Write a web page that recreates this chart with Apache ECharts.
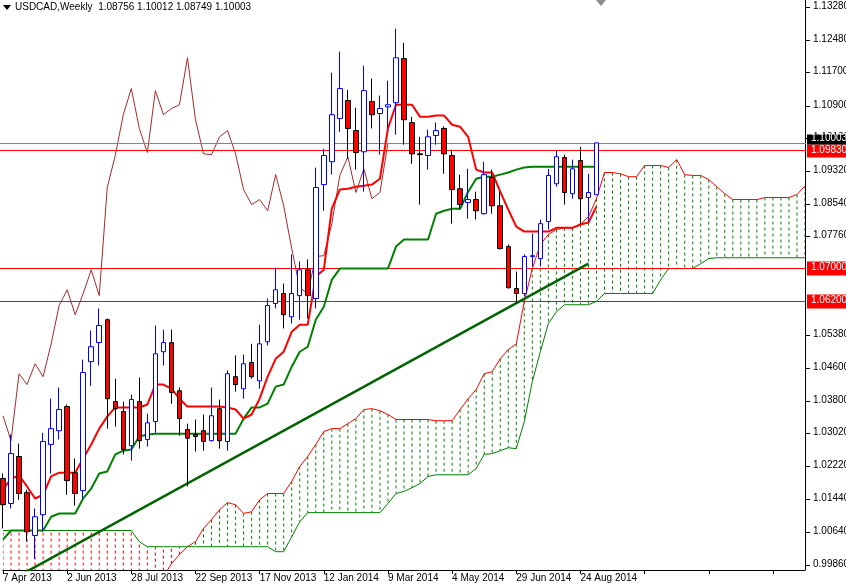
<!DOCTYPE html>
<html>
<head>
<meta charset="utf-8">
<script src="https://cdn.jsdelivr.net/npm/echarts@6.0.0/dist/echarts.min.js"></script>
<style>
  html, body { margin: 0; padding: 0; background: #fff; }
  #chart { width: 846px; height: 587px; }
</style>
</head>
<body>
<div id="chart"></div>
<script>
// weekly USDCAD, 7 Apr 2013 .. early Sep 2014
var opens = [1.0193,1.0133,1.0246,1.0159,1.0056,1.0106,1.0275,1.0308,1.0366,1.0207,
  1.0164,1.0474,1.0520,1.0575,1.0378,1.0354,1.0272,1.0378,1.0287,1.0330,
  1.0498,1.0520,1.0404,1.0311,1.0299,1.0308,1.0284,1.0361,1.0282,1.0438,
  1.0409,1.0472,1.0428,1.0522,1.0614,1.0638,1.0582,1.0633,1.0695,1.0626,
  1.0900,1.0955,1.1059,1.1102,1.1030,1.0979,1.1100,1.1071,1.1087,1.1097,
  1.1203,1.1049,1.0974,1.0970,1.1018,1.1035,1.0970,1.0890,1.0857,1.0864,
  1.0830,1.0917,1.0849,1.0751,1.0650,1.0638,1.0727,1.0722,1.0811,1.0902,
  1.0965,1.0878,1.0958,1.0869,1.08756];
var closes = [1.0130,1.0253,1.0157,1.0065,1.0101,1.0282,1.0313,1.0359,1.0188,1.0157,
  1.0448,1.0510,1.0561,1.0385,1.0361,1.0263,1.0383,1.0284,1.0327,1.0493,
  1.0520,1.0400,1.0337,1.0290,1.0294,1.0282,1.0344,1.0284,1.0445,1.0419,
  1.0469,1.0438,1.0517,1.0609,1.0647,1.0587,1.0638,1.0695,1.0633,1.0893,
  1.0970,1.1068,1.1131,1.1035,1.0977,1.1126,1.1068,1.1083,1.1092,1.1205,
  1.1056,1.0974,1.0972,1.1015,1.1030,1.0974,1.0888,1.0852,1.0864,1.0837,
  1.0924,1.0849,1.0746,1.0652,1.0638,1.0727,1.0729,1.0806,1.0922,1.0967,
  1.0881,1.0938,1.0866,1.0881,1.10003];
var lows = [1.0073,1.0121,1.0142,1.0041,1.0000,1.0065,1.0205,1.0287,1.0154,1.0128,
  1.0145,1.0416,1.0465,1.0313,1.0318,1.0251,1.0236,1.0265,1.0270,1.0303,
  1.0465,1.0373,1.0296,1.0174,1.0258,1.0260,1.0282,1.0265,1.0260,1.0402,
  1.0385,1.0433,1.0409,1.0513,1.0602,1.0554,1.0566,1.0575,1.0578,1.0602,
  1.0837,1.0924,1.1027,1.0962,1.0936,1.0883,1.1035,1.0972,1.1035,1.1020,
  1.0996,1.0950,1.0852,1.0936,1.0996,1.0926,1.0806,1.0840,1.0818,1.0816,
  1.0828,1.0830,1.0744,1.0650,1.0614,1.0631,1.0703,1.0703,1.0792,1.0895,
  1.0852,1.0866,1.0806,1.0811,1.08749];
var highs = [1.0205,1.0299,1.0277,1.0166,1.0121,1.0303,1.0385,1.0412,1.0371,1.0241,
  1.0479,1.0549,1.0602,1.0578,1.0433,1.0378,1.0395,1.0436,1.0349,1.0561,
  1.0551,1.0551,1.0412,1.0325,1.0335,1.0347,1.0412,1.0383,1.0453,1.0489,
  1.0491,1.0517,1.0563,1.0626,1.0700,1.0662,1.0732,1.0715,1.0720,1.0941,
  1.0986,1.1169,1.1220,1.1128,1.1085,1.1186,1.1155,1.1114,1.1150,1.1275,
  1.1241,1.1063,1.1015,1.1032,1.1049,1.1040,1.0984,1.0924,1.0938,1.0883,
  1.0955,1.0936,1.0883,1.0756,1.0691,1.0732,1.0782,1.0816,1.0938,1.0982,
  1.0972,1.0960,1.0991,1.0926,1.10012];

var tenkan = [1.0166,1.0193,1.0200,1.0174,1.0145,1.0154,1.0198,1.0207,1.0207,1.0207,
  1.0241,1.0275,1.0313,1.0342,1.0364,1.0364,1.0364,1.0364,1.0371,1.0419,
  1.0419,1.0409,1.0385,1.0366,1.0366,1.0366,1.0366,1.0366,1.0364,1.0359,
  1.0337,1.0347,1.0385,1.0438,1.0481,1.0498,1.0546,1.0563,1.0563,1.0679,
  1.0695,1.0842,1.0888,1.0890,1.0895,1.0897,1.0900,1.0914,1.1035,1.1092,
  1.1092,1.1092,1.1063,1.1063,1.1066,1.1066,1.1044,1.1039,1.1015,1.0936,
  1.0929,1.0929,1.0883,1.0840,1.0799,1.0787,1.0787,1.0787,1.0787,1.0796,
  1.0796,1.0796,1.0804,1.0809,1.0847];
var kijun = [1.0046,1.0068,1.0068,1.0068,1.0068,1.0068,1.0101,1.0109,1.0109,1.0109,
  1.0145,1.0169,1.0205,1.0210,1.0251,1.0260,1.0263,1.0294,1.0299,1.0301,
  1.0301,1.0301,1.0301,1.0301,1.0301,1.0301,1.0301,1.0301,1.0301,1.0301,
  1.0337,1.0364,1.0364,1.0373,1.0414,1.0419,1.0462,1.0498,1.0510,1.0575,
  1.0606,1.0671,1.0698,1.0698,1.0698,1.0698,1.0698,1.0698,1.0698,1.0751,
  1.0768,1.0768,1.0768,1.0768,1.0830,1.0837,1.0842,1.0842,1.0883,1.0914,
  1.0919,1.0919,1.0924,1.0929,1.0936,1.0941,1.0943,1.0943,1.0943,1.0943,
  1.0943,1.0943,1.0943,1.0943,1.0943];
// cloud, already shifted 26 weeks forward (101 slots)
var spanA = [0.9897,0.9897,0.9897,0.9897,0.9897,0.9897,0.9897,0.9897,0.9897,0.9897,
  0.9897,0.9897,0.9897,0.9897,0.9897,0.9897,0.9897,0.9897,0.9897,0.9921,
  0.9957,0.9988,1.0010,1.0029,1.0041,1.0073,1.0094,1.0118,1.0135,1.0130,
  1.0109,1.0113,1.0142,1.0157,1.0157,1.0157,1.0186,1.0222,1.0246,1.0275,
  1.0306,1.0313,1.0313,1.0325,1.0337,1.0359,1.0361,1.0356,1.0347,1.0335,
  1.0335,1.0335,1.0335,1.0335,1.0332,1.0332,1.0332,1.0359,1.0385,1.0407,
  1.0445,1.0450,1.0481,1.0503,1.0517,1.0619,1.0698,1.0756,1.0780,1.0792,
  1.0796,1.0796,1.0804,1.0823,1.0866,1.0929,1.0929,1.0926,1.0919,1.0919,
  1.0946,1.0946,1.0946,1.0941,1.0960,1.0924,1.0922,1.0922,1.0912,1.0895,
  1.0878,1.0864,1.0864,1.0864,1.0864,1.0869,1.0869,1.0869,1.0869,1.0876,
  1.0897];
var spanB = [1.0068,1.0068,1.0068,1.0068,1.0068,1.0068,1.0068,1.0068,1.0068,1.0068,
  1.0068,1.0068,1.0068,1.0068,1.0068,1.0068,1.0068,1.0041,1.0029,1.0029,
  1.0029,1.0029,1.0029,1.0029,1.0029,1.0029,1.0029,1.0029,1.0029,1.0029,
  1.0029,1.0029,1.0029,1.0029,1.0017,1.0017,1.0053,1.0089,1.0111,1.0111,
  1.0111,1.0111,1.0111,1.0111,1.0111,1.0111,1.0111,1.0111,1.0133,1.0157,
  1.0162,1.0171,1.0181,1.0198,1.0202,1.0202,1.0202,1.0202,1.0202,1.0217,
  1.0251,1.0253,1.0260,1.0267,1.0265,1.0330,1.0426,1.0498,1.0566,1.0594,
  1.0611,1.0611,1.0611,1.0611,1.0619,1.0638,1.0638,1.0638,1.0638,1.0638,
  1.0638,1.0638,1.0671,1.0698,1.0698,1.0698,1.0698,1.0710,1.0722,1.0724,
  1.0724,1.0724,1.0724,1.0724,1.0724,1.0724,1.0724,1.0724,1.0724,1.0724,
  1.0724];

var dateLabels = ['7 Apr 2013', '2 Jun 2013', '28 Jul 2013', '22 Sep 2013', '17 Nov 2013',
  '12 Jan 2014', '9 Mar 2014', '4 May 2014', '29 Jun 2014', '24 Aug 2014'];
var priceTicks = [1.13280, 1.12480, 1.11700, 1.10900, 1.10120, 1.09320, 1.08540, 1.07760,
  1.05380, 1.04600, 1.03800, 1.03020, 1.02220, 1.01440, 1.00640, 0.99860];
var levels = [1.09830, 1.07000, 1.06200];
var lastPrice = 1.10003;
var trend = [[0, 0.9938], [73, 1.0710]];

var font = 'Liberation Sans, Arial, sans-serif';
var slots = [];
for (var i = 0; i < spanA.length; i++) slots.push(i);
var candles = opens.map(function (o, i) { return [o, closes[i], lows[i], highs[i]]; });
var chikou = closes.slice(26);
var cloud = slots.map(function (i) { return [i, spanA[i], spanB[i]]; });

var chart = echarts.init(document.getElementById('chart'));
chart.setOption({
  animation: false,
  grid: { left: 0, right: 41, top: 0, height: 570 },
  xAxis: {
    type: 'category', data: slots, boundaryGap: false,
    axisLine: { lineStyle: { color: '#000' } },
    axisTick: { interval: 7, length: 4, lineStyle: { color: '#000' } },
    axisLabel: {
      interval: 7, color: '#000', fontFamily: font, fontSize: 10, align: 'left', margin: 3,
      formatter: function (v, i) { return dateLabels[i / 8] || ''; }
    },
    splitLine: { show: false }
  },
  yAxis: {
    type: 'value', position: 'right', min: 0.9973, max: 1.1344,
    axisLine: { show: true, lineStyle: { color: '#000' } },
    axisTick: { show: false }, axisLabel: { show: false }, splitLine: { show: false }
  },
  series: [
    {
      type: 'custom', z: 1, clip: true, data: cloud,
      renderItem: function (params, api) {
        var a = api.value(1), b = api.value(2);
        var p1 = api.coord([api.value(0), a]), p2 = api.coord([api.value(0), b]);
        return { type: 'line', shape: { x1: p1[0], y1: p1[1], x2: p2[0], y2: p2[1] },
          style: { stroke: a > b ? '#008000' : '#ff0000', lineWidth: 1, lineDash: [3, 3] } };
      }
    },
    { type: 'line', data: spanA, symbol: 'none', z: 2, lineStyle: { color: '#ff0000', width: 1 } },
    { type: 'line', data: spanB, symbol: 'none', z: 2, lineStyle: { color: '#008000', width: 1 } },
    { type: 'line', data: chikou, symbol: 'none', z: 2, lineStyle: { color: '#a52a2a', width: 1 } },
    { type: 'line', data: trend, symbol: 'none', z: 3, lineStyle: { color: '#006400', width: 2.5 } },
    { type: 'line', data: kijun, symbol: 'none', z: 4, lineStyle: { color: '#008000', width: 2 } },
    { type: 'line', data: tenkan, symbol: 'none', z: 4, lineStyle: { color: '#ff0000', width: 2 } },
    {
      type: 'candlestick', data: candles, z: 5, barWidth: 5,
      itemStyle: { color: '#ffffff', color0: '#ff0000', borderColor: '#0000ff', borderColor0: '#000000', borderWidth: 1 }
    }
  ]
});

// horizontal levels and MT4-style price scale
var gfx = [];
var axX = chart.convertToPixel({ xAxisIndex: 0 }, 100) + 1;
function yPix(v) { return Math.round(chart.convertToPixel({ yAxisIndex: 0 }, v)) + 0.5; }
gfx.push({ type: 'line', z: 3, shape: { x1: 0, y1: yPix(lastPrice), x2: axX, y2: yPix(lastPrice) }, style: { stroke: '#778899', lineWidth: 1 } });
levels.forEach(function (v) {
  gfx.push({ type: 'line', z: 3, shape: { x1: 0, y1: yPix(v), x2: axX, y2: yPix(v) }, style: { stroke: '#ff0000', lineWidth: 1 } });
});
priceTicks.forEach(function (v) {
  var y = yPix(v);
  gfx.push({ type: 'line', shape: { x1: axX, y1: y, x2: axX + 4, y2: y }, style: { stroke: '#000' } });
  gfx.push({ type: 'text', x: axX + 7, y: y - 6, style: { text: v.toFixed(5), fill: '#000', font: '10px ' + font } });
});
function tag(v, bg, top, h) {
  var y = yPix(v);
  gfx.push({ type: 'rect', shape: { x: axX + 1, y: y + top, width: 40, height: h }, style: { fill: bg } });
  gfx.push({ type: 'text', x: axX + 5, y: y + top + h / 2 - 6, style: { text: v.toFixed(5), fill: '#fff', font: '10px ' + font } });
}
tag(levels[0], '#ff0000', -6, 13);
tag(levels[1], '#ff0000', -7, 14);
tag(levels[2], '#ff0000', -7, 14);
tag(lastPrice, '#000000', -9, 10);
gfx.push({ type: 'polygon', shape: { points: [[3, 5], [11, 5], [7, 10]] }, style: { fill: '#000' } });
gfx.push({ type: 'text', x: 15, y: 2, style: { text: 'USDCAD,Weekly  1.08756 1.10012 1.08749 1.10003', fill: '#000', font: '10px ' + font } });
gfx.push({ type: 'polygon', shape: { points: [[596, 0], [606, 0], [601, 6]] }, style: { fill: '#8c8c8c' } });
chart.setOption({ graphic: gfx });
</script>
</body>
</html>
